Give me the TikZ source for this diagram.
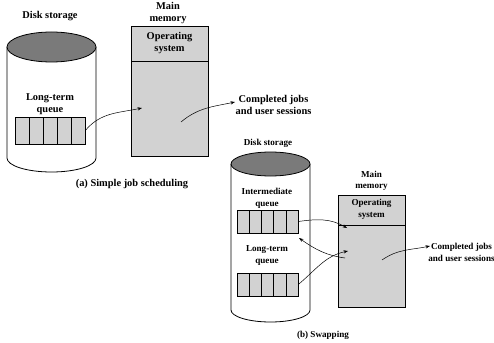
\documentclass[tikz,border=0pt]{standalone}
\usepackage{fontspec}
\setmainfont{Liberation Serif}
\usetikzlibrary{arrows.meta}
\definecolor{boxgray}{HTML}{D2D2D2}
\definecolor{topgray}{HTML}{7A7A7A}
\begin{document}
\begin{tikzpicture}[x=1pt,y=-1pt,
  lbla/.style={font=\bfseries\fontsize{10.4}{12.5}\selectfont, align=center, inner sep=0pt},
  lblb/.style={font=\bfseries\fontsize{9.1}{11.5}\selectfont, align=center, inner sep=0pt},
  qbox/.style={draw, fill=boxgray, line width=0.6pt, inner sep=0pt},
  membox/.style={draw, fill=boxgray, line width=0.6pt, inner sep=0pt},
  cyl/.style={line width=0.8pt},
  arr/.style={-{Stealth[length=4.5pt,width=3.2pt]}, line width=0.5pt}]
\fill[white] (0,0) rectangle (494,342);
\useasboundingbox (0,0) rectangle (494,342);

% ---------- (a) Simple job scheduling ----------
% disk cylinder
\draw[cyl, fill=white] (7,47) -- (7,158) arc[start angle=180, end angle=360, x radius=44.5pt, y radius=14pt] -- (96,47);
\draw[cyl, fill=topgray] (51.5,47) ellipse [x radius=44.5pt, y radius=15pt];
\node[lbla] (dska) at (50,16) {Disk storage};
\node[lbla] (ltqa) at (50,104) {Long-term\\queue};
\node[qbox, minimum width=70pt, minimum height=27pt] (qa) at (50,130.5) {};
\foreach \i in {1,...,4} \draw[line width=0.6pt] (15+14*\i,117) -- (15+14*\i,144);

% main memory
\node[lbla] (mma) at (168,13) {Main\\memory};
\node[membox, minimum width=77pt, minimum height=130pt] (ma) at (169.5,91) {};
\draw[line width=0.6pt] (131,61) -- (208,61);
\node[lbla] (osa) at (169.5,43) {Operating\\system};
\coordinate (ina) at (142,108);
\coordinate (outa) at (181,122);

\node[lbla] (cja) at (273.5,105) {Completed jobs\\and user sessions};
\coordinate (cjta) at (235,102);
\draw[arr] (qa.east) to[out=50, in=192] (ina);
\draw[arr] (outa) to[out=40, in=192] (cjta);

\node[lbla] (capa) at (132,184) {(a) Simple job scheduling};

% ---------- (b) Swapping ----------
\draw[cyl, fill=white] (231,164) -- (231,310) arc[start angle=180, end angle=360, x radius=39.5pt, y radius=12pt] -- (310,164);
\draw[cyl, fill=topgray] (270.5,164) ellipse [x radius=39.5pt, y radius=12pt];
\node[lblb] (dskb) at (268,143) {Disk storage};

\node[lblb] (imq) at (267,198.5) {Intermediate\\queue};
\node[qbox, minimum width=61pt, minimum height=23pt] (qi) at (267.5,221.5) {};
\foreach \i in {1,...,4} \draw[line width=0.6pt] (237+12.2*\i,210) -- (237+12.2*\i,233);

\node[lblb] (ltqb) at (267,255.5) {Long-term\\queue};
\node[qbox, minimum width=61pt, minimum height=23pt] (ql) at (267.5,284.5) {};
\foreach \i in {1,...,4} \draw[line width=0.6pt] (237+12.2*\i,273) -- (237+12.2*\i,296);

\node[lblb] (mmb) at (371.5,181) {Main\\memory};
\node[membox, minimum width=67pt, minimum height=112pt] (mb) at (371.5,251) {};
\draw[line width=0.6pt] (338,225) -- (405,225);
\node[lblb] (osb) at (371.5,209.5) {Operating\\system};

\coordinate (inb1) at (347,228);
\coordinate (outb1) at (345,258);
\coordinate (retb) at (299,238);
\coordinate (inb2) at (348,251);
\coordinate (outb2) at (382,260);
\coordinate (cjtb) at (430,246);

\draw[arr] (qi.east) to[out=8, in=150] (inb1);
\draw[arr] (outb1) to[out=172, in=-35] (retb);
\draw[arr] (ql.east) to[out=40, in=192] (inb2);
\draw[arr] (outb2) to[out=35, in=192] (cjtb);

\node[lblb] (cjb) at (461.5,252.5) {Completed jobs\\and user sessions};
\node[lblb] (capb) at (323,335) {(b) Swapping};
\end{tikzpicture}
\end{document}
